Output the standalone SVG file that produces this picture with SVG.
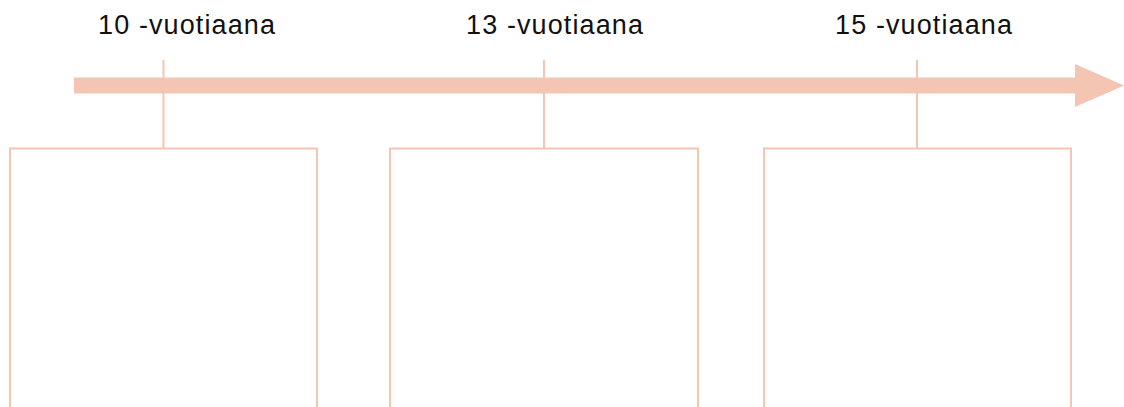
<svg xmlns="http://www.w3.org/2000/svg" width="1124" height="407" viewBox="0 0 1124 407">
<style>
.lbl{font-family:"Liberation Sans",Arial,sans-serif;font-size:27px;fill:#111}
.ln{stroke:#f4c5b3;stroke-width:2;fill:none}
.ar{fill:#f4c5b3}
</style>
<rect width="1124" height="407" fill="#fff"/>
<g id="timeline">
<rect class="ar" x="74" y="77.5" width="1003" height="16"/>
<polygon class="ar" points="1075,64 1124,85.5 1075,107"/>
</g>
<g id="connectors">
<line class="ln" x1="163.5" y1="60" x2="163.5" y2="148"/>
<line class="ln" x1="544" y1="60" x2="544" y2="148"/>
<line class="ln" x1="917" y1="60" x2="917" y2="148"/>
</g>
<g id="node1">
<polyline class="ln" points="10,407 10,148.5 317,148.5 317,407"/>
<text class="lbl" x="98" y="34" textLength="177">10 -vuotiaana</text>
</g>
<g id="node2">
<polyline class="ln" points="390,407 390,148.5 698,148.5 698,407"/>
<text class="lbl" x="466" y="34" textLength="177">13 -vuotiaana</text>
</g>
<g id="node3">
<polyline class="ln" points="764,407 764,148.5 1071,148.5 1071,407"/>
<text class="lbl" x="835" y="34" textLength="177">15 -vuotiaana</text>
</g>
</svg>
